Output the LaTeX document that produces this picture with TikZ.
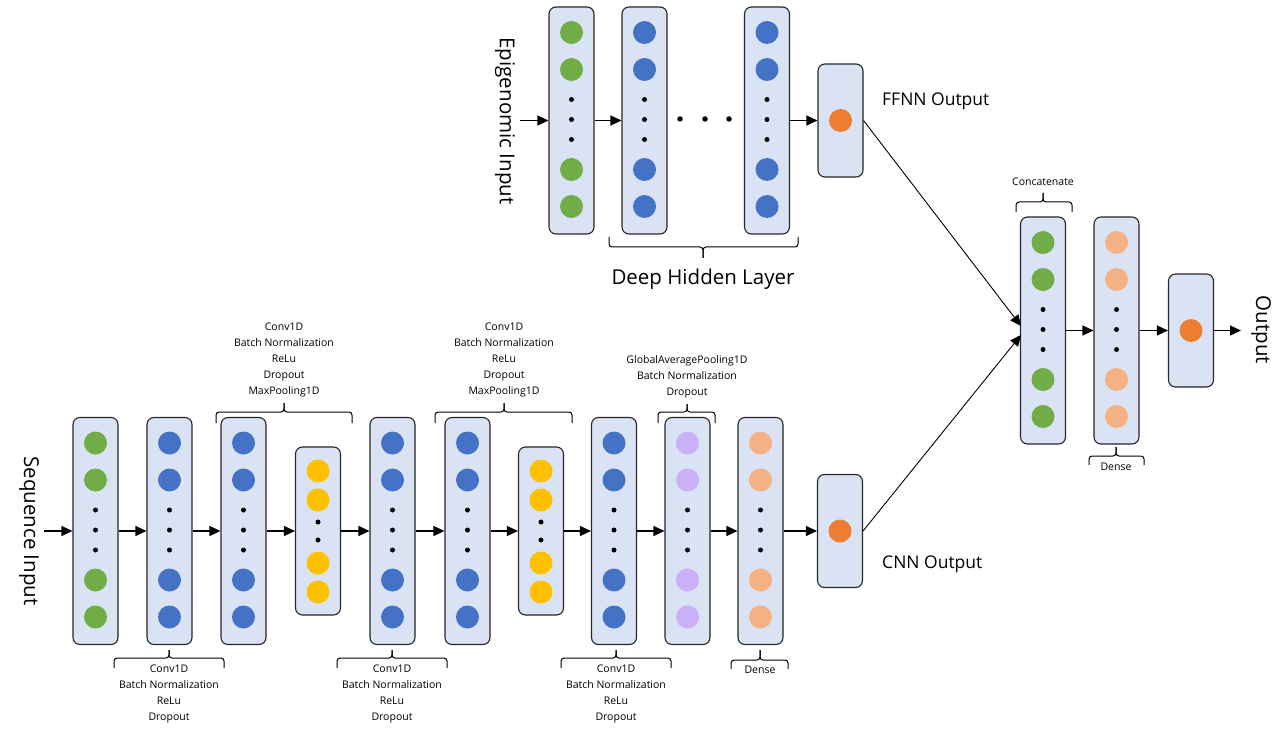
\documentclass[tikz,border=0pt]{standalone}
\usepackage{fontspec}
\setmainfont{Open Sans}
\usetikzlibrary{arrows.meta}
\definecolor{boxfill}{HTML}{DAE3F3}
\definecolor{cgreen}{HTML}{70AD47}
\definecolor{cblue}{HTML}{4472C4}
\definecolor{cyellow}{HTML}{FFC000}
\definecolor{corange}{HTML}{ED7D31}
\definecolor{clight}{HTML}{F4B183}
\definecolor{cpurple}{HTML}{C9B1F7}
\definecolor{edgecol}{HTML}{262626}
\tikzset{
 layer/.style={draw=edgecol, fill=boxfill, line width=1.1pt, rounded corners=7pt, minimum width=45pt, inner sep=0pt},
 neuron/.style={circle, fill=#1, draw=none, minimum size=23pt, inner sep=0pt},
 vdot/.style={circle, fill=black, draw=none, minimum size=5pt, inner sep=0pt},
 arr/.style={line width=1.2pt, -{Triangle[length=11pt,width=10pt]}},
 bracestyle/.style={line width=1pt, rounded corners=3pt},
 lbl/.style={font=\fontsize{10.5}{16}\selectfont, align=center, inner sep=0pt},
 biglbl/.style={font=\fontsize{20.5}{24}\selectfont, inner sep=0pt},
 midlbl/.style={font=\fontsize{17.5}{21}\selectfont, inner sep=0pt},
}
\newcommand{\talllayer}[4]{%
  \node[layer, minimum height=227pt] (#1) at (#2,#3) {};
  \foreach \dy/\k in {-88/1,-51/2,49/3,86/4}{\node[neuron=#4] (#1n\k) at (#2,#3+\dy) {};}
  \foreach \dy/\k in {-21/1,-1/2,19/3}{\node[vdot] (#1d\k) at (#2,#3+\dy) {};}
}
\newcommand{\shortlayer}[4]{%
  \node[layer, minimum height=168pt] (#1) at (#2,#3) {};
  \foreach \dy/\k in {-60/1,-31/2,32/3,61/4}{\node[neuron=#4] (#1n\k) at (#2,#3+\dy) {};}
  \foreach \dy/\k in {-9/1,9/2}{\node[vdot] (#1d\k) at (#2,#3+\dy) {};}
}
\newcommand{\outlayer}[3]{%
  \node[layer, minimum height=113pt] (#1) at (#2,#3) {};
  \node[neuron=corange] (#1n) at (#2,#3) {};
}
\newcommand{\mybrace}[6]{%
  \draw[bracestyle] (#1,#4) -- (#1,#5) -- (#3,#5) -- (#3,#6);
  \draw[bracestyle] (#3,#6) -- (#3,#5) -- (#2,#5) -- (#2,#4);
}
\begin{document}
\begin{tikzpicture}[x=1pt,y=-1pt]
\path[use as bounding box] (0,0) rectangle (1288,738);

% ---------- top branch ----------
\talllayer{e1}{571.5}{120.5}{cgreen}
\talllayer{e2}{644.5}{120.5}{cblue}
\talllayer{e3}{767}{120.5}{cblue}
\outlayer{fo}{840.5}{120.5}
\node[vdot, minimum size=5.5pt] (hd1) at (680,119) {};
\node[vdot, minimum size=5.5pt] (hd2) at (705,119) {};
\node[vdot, minimum size=5.5pt] (hd3) at (729,119) {};
\coordinate (einp) at (520,120.5);
\draw[arr] (einp) -- (e1);
\draw[arr] (e1) -- (e2);
\draw[arr] (e3) -- (fo);
\node[biglbl, rotate=-90] (epilab) at (505,121) {Epigenomic Input};
\node[midlbl, anchor=west] (fflab) at (882,101) {FFNN Output};
\mybrace{609}{798}{703}{237}{247}{258}
\node[biglbl] (dhl) at (703,279) {Deep Hidden Layer};

% ---------- bottom branch ----------
\talllayer{A}{95.5}{531}{cgreen}
\talllayer{B}{169.5}{531}{cblue}
\talllayer{C}{243.5}{531}{cblue}
\shortlayer{D}{318}{531}{cyellow}
\talllayer{E}{392.5}{531}{cblue}
\talllayer{F}{467.5}{531}{cblue}
\shortlayer{G}{541}{531}{cyellow}
\talllayer{H}{614}{531}{cblue}
\talllayer{I}{687.5}{531}{cpurple}
\talllayer{J}{760.5}{531}{clight}
\outlayer{co}{840}{531}
\coordinate (sinp) at (44,531);
\draw[arr] (sinp) -- (A);
\draw[arr] (A) -- (B);
\draw[arr] (B) -- (C);
\draw[arr] (C) -- (D);
\draw[arr] (D) -- (E);
\draw[arr] (E) -- (F);
\draw[arr] (F) -- (G);
\draw[arr] (G) -- (H);
\draw[arr] (H) -- (I);
\draw[arr] (I) -- (J);
\draw[arr] (J) -- (co);
\node[biglbl, rotate=-90] (seqlab) at (29,531) {Sequence Input};
\node[midlbl, anchor=west] (cnlab) at (882,564) {CNN Output};

\mybrace{216}{352}{284}{423}{412}{403}
\node[lbl] (lcd) at (284,360) {Conv1D\\Batch Normalization\\ReLu\\Dropout\\MaxPooling1D};
\mybrace{435}{572}{504}{423}{412}{403}
\node[lbl] (lfg) at (504,360) {Conv1D\\Batch Normalization\\ReLu\\Dropout\\MaxPooling1D};
\mybrace{658}{715}{687}{423}{412}{404}
\node[lbl] (li) at (687,377) {GlobalAveragePooling1D\\Batch Normalization\\Dropout};
\mybrace{114}{224}{169}{668}{658}{650}
\node[lbl] (lb) at (169,694) {Conv1D\\Batch Normalization\\ReLu\\Dropout};
\mybrace{337}{447}{392}{668}{658}{650}
\node[lbl] (le) at (392,694) {Conv1D\\Batch Normalization\\ReLu\\Dropout};
\mybrace{561}{671}{616}{668}{658}{650}
\node[lbl] (lh) at (616,694) {Conv1D\\Batch Normalization\\ReLu\\Dropout};
\mybrace{731}{788}{760}{669}{660}{650}
\node[lbl] (lj) at (760,670) {Dense};

% ---------- merge ----------
\talllayer{cc}{1043}{330.5}{cgreen}
\talllayer{dd}{1116.5}{330.5}{clight}
\outlayer{oo}{1191}{330.5}
\coordinate (cin1) at (1021,326);
\coordinate (cin2) at (1021,335);
\draw[arr, line width=0.9pt] (fo.east) -- (cin1);
\draw[arr, line width=0.9pt] (co.east) -- (cin2);
\draw[arr] (cc) -- (dd);
\draw[arr] (dd) -- (oo);
\coordinate (oend) at (1241,330.5);
\draw[arr] (oo) -- (oend);
\node[biglbl, rotate=-90] (outlab) at (1261,330) {Output};
\mybrace{1016}{1072}{1043}{212}{202}{193}
\node[lbl] (lcc) at (1043,182) {Concatenate};
\mybrace{1089}{1144}{1116}{465}{456}{447}
\node[lbl] (ldd) at (1116,467) {Dense};
\end{tikzpicture}
\end{document}
